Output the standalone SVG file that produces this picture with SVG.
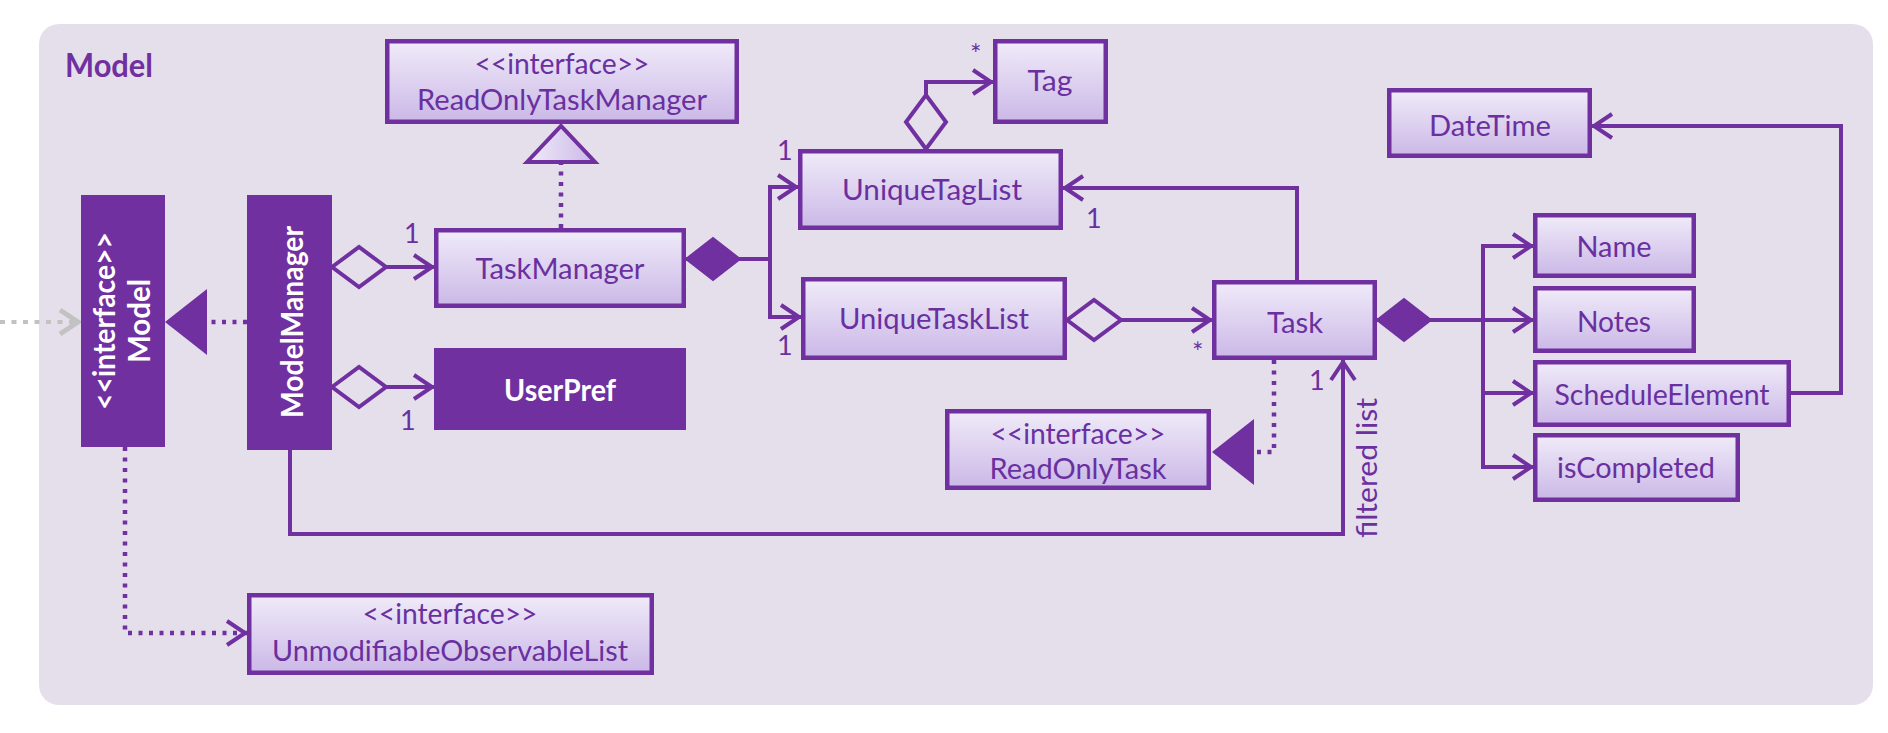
<svg xmlns="http://www.w3.org/2000/svg" width="1888" height="733" viewBox="0 0 1888 733">
  <style>
    .lbl { font-family: Lato, "Liberation Sans", sans-serif; font-size: 29px; fill: #6A30A0; text-anchor: middle; }
    .wlbl { font-family: Lato, "Liberation Sans", sans-serif; font-size: 30px; font-weight: bold; fill: #FFFFFF; text-anchor: middle; }
    .mult { font-family: Lato, "Liberation Sans", sans-serif; font-size: 27px; fill: #6A30A0; }
    .title { font-family: Lato, "Liberation Sans", sans-serif; font-size: 32px; font-weight: bold; fill: #7030A0; }
    .box { fill: url(#boxGrad); stroke: #7030A0; stroke-width: 4.5; }
    .dbox { fill: #7030A0; stroke: #7030A0; stroke-width: 2; }
    .ln { fill: none; stroke: #7030A0; stroke-width: 4; }
    .dot { fill: none; stroke: #7030A0; stroke-width: 4.5; stroke-dasharray: 4 6.5; }
    .gdot { fill: none; stroke: #C2C2C2; stroke-width: 4; stroke-dasharray: 5 6.5; }
  </style>
  <defs>
    <linearGradient id="boxGrad" x1="0" y1="0" x2="0" y2="1">
      <stop offset="0" stop-color="#F0EBF9"/>
      <stop offset="1" stop-color="#CBB8E7"/>
    </linearGradient>
    <marker id="arrow" markerUnits="userSpaceOnUse" viewBox="0 0 30 30" refX="25" refY="15" markerWidth="30" markerHeight="30" orient="auto" overflow="visible">
      <path d="M5,3 L23,15 L5,27" fill="none" stroke="#7030A0" stroke-width="4"/>
    </marker>
    <marker id="garrow" markerUnits="userSpaceOnUse" viewBox="0 0 30 30" refX="25" refY="15" markerWidth="30" markerHeight="30" orient="auto" overflow="visible">
      <path d="M5,3 L23,15 L5,27" fill="none" stroke="#C2C2C2" stroke-width="5"/>
    </marker>
    <marker id="diaOpen" markerUnits="userSpaceOnUse" viewBox="0 0 56 44" refX="1" refY="22" markerWidth="56" markerHeight="44" orient="auto" overflow="visible">
      <path d="M1,22 L28,2 L55,22 L28,42 Z" fill="#E5DFEC" stroke="#7030A0" stroke-width="4"/>
    </marker>
    <marker id="diaFill" markerUnits="userSpaceOnUse" viewBox="0 0 56 44" refX="1" refY="22" markerWidth="56" markerHeight="44" orient="auto" overflow="visible">
      <path d="M1,22 L28,1 L55,22 L28,43 Z" fill="#7030A0" stroke="#7030A0" stroke-width="2"/>
    </marker>
    <marker id="triFill" markerUnits="userSpaceOnUse" viewBox="0 0 42 66" refX="42" refY="33" markerWidth="42" markerHeight="66" orient="auto" overflow="visible">
      <path d="M0,0 L42,33 L0,66 Z" fill="#7030A0"/>
    </marker>
    <marker id="triOpen" markerUnits="userSpaceOnUse" viewBox="0 0 42 70" refX="40" refY="35" markerWidth="42" markerHeight="70" orient="auto" overflow="visible">
      <path d="M2,1 L38,35 L2,69 Z" fill="url(#boxGrad)" stroke="#7030A0" stroke-width="4"/>
    </marker>
  </defs>

  <g id="panel">
    <rect x="39" y="24" width="1834" height="681" rx="20" ry="20" fill="#E5DFEC"/>
    <text class="title" x="65" y="77" textLength="88" lengthAdjust="spacingAndGlyphs">Model</text>
  </g>

  <g id="connectors">
    <path class="gdot" d="M0,322 H80" marker-end="url(#garrow)"/>
    <path class="dot" d="M247,322 H165" marker-end="url(#triFill)"/>
    <path class="dot" d="M561,228 V124" marker-end="url(#triOpen)"/>
    <path class="ln" d="M332,267 H434" marker-start="url(#diaOpen)" marker-end="url(#arrow)"/>
    <path class="ln" d="M332,387 H434" marker-start="url(#diaOpen)" marker-end="url(#arrow)"/>
    <path class="ln" d="M686,259 H770 V187 H798" marker-start="url(#diaFill)" marker-end="url(#arrow)"/>
    <path class="ln" d="M770,259 V317 H801" marker-end="url(#arrow)"/>
    <path class="ln" d="M926,149 V82 H993" marker-start="url(#diaOpen)" marker-end="url(#arrow)"/>
    <path class="ln" d="M1067,320 H1212" marker-start="url(#diaOpen)" marker-end="url(#arrow)"/>
    <path class="ln" d="M1297,280 V188 H1063" marker-end="url(#arrow)"/>
    <path class="dot" d="M1274,360 V452 H1212" marker-end="url(#triFill)"/>
    <path class="ln" d="M290,450 V534 H1343 V360" marker-end="url(#arrow)"/>
    <path class="ln" d="M1377,320 H1533" marker-start="url(#diaFill)" marker-end="url(#arrow)"/>
    <path class="ln" d="M1483,320 V246 H1533" marker-end="url(#arrow)"/>
    <path class="ln" d="M1483,320 V393 H1533" marker-end="url(#arrow)"/>
    <path class="ln" d="M1483,320 V467 H1533" marker-end="url(#arrow)"/>
    <path class="ln" d="M1791,393 H1841 V126 H1592" marker-end="url(#arrow)"/>
    <path class="dot" d="M125,447 V633 H247" marker-end="url(#arrow)"/>
    <text class="mult" x="404" y="243">1</text>
    <text class="mult" x="400" y="430">1</text>
    <text class="mult" x="777" y="160">1</text>
    <text class="mult" x="777" y="355">1</text>
    <text class="mult" x="1086" y="228">1</text>
    <text class="mult" x="970" y="64">*</text>
    <text class="mult" x="1192" y="362">*</text>
    <text class="mult" x="1309" y="390">1</text>
    <text class="lbl" transform="translate(1377,468) rotate(-90)" textLength="140" lengthAdjust="spacingAndGlyphs">filtered list</text>
  </g>

  <g id="node-model">
    <rect class="dbox" x="82" y="196" width="82" height="250"/>
    <text class="wlbl" transform="translate(115,321) rotate(-90)" textLength="178" lengthAdjust="spacingAndGlyphs">&lt;&lt;interface&gt;&gt;</text>
    <text class="wlbl" transform="translate(150,321) rotate(-90)" textLength="84" lengthAdjust="spacingAndGlyphs">Model</text>
  </g>

  <g id="node-modelmanager">
    <rect class="dbox" x="248" y="196" width="83" height="253"/>
    <text class="wlbl" transform="translate(303,322) rotate(-90)" textLength="192" lengthAdjust="spacingAndGlyphs">ModelManager</text>
  </g>

  <g id="node-readonlytaskmanager">
    <rect class="box" x="387.25" y="41.25" width="349.5" height="80.5"/>
    <text class="lbl" x="562" y="74" textLength="175" lengthAdjust="spacingAndGlyphs">&lt;&lt;interface&gt;&gt;</text>
    <text class="lbl" x="562" y="110" textLength="290" lengthAdjust="spacingAndGlyphs">ReadOnlyTaskManager</text>
  </g>

  <g id="node-taskmanager">
    <rect class="box" x="436.25" y="230.25" width="247.5" height="75.5"/>
    <text class="lbl" x="560" y="279" textLength="169" lengthAdjust="spacingAndGlyphs">TaskManager</text>
  </g>

  <g id="node-userpref">
    <rect class="dbox" x="435" y="349" width="250" height="80"/>
    <text class="wlbl" x="560" y="401" textLength="112" lengthAdjust="spacingAndGlyphs">UserPref</text>
  </g>

  <g id="node-uniquetaglist">
    <rect class="box" x="800.25" y="151.25" width="260.5" height="76.5"/>
    <text class="lbl" x="932" y="200" textLength="180" lengthAdjust="spacingAndGlyphs">UniqueTagList</text>
  </g>

  <g id="node-tag">
    <rect class="box" x="995.25" y="41.25" width="110.5" height="80.5"/>
    <text class="lbl" x="1050" y="91" textLength="45" lengthAdjust="spacingAndGlyphs">Tag</text>
  </g>

  <g id="node-uniquetasklist">
    <rect class="box" x="803.25" y="279.25" width="261.5" height="78.5"/>
    <text class="lbl" x="934" y="329" textLength="190" lengthAdjust="spacingAndGlyphs">UniqueTaskList</text>
  </g>

  <g id="node-task">
    <rect class="box" x="1214.25" y="282.25" width="160.5" height="75.5"/>
    <text class="lbl" x="1295" y="333" textLength="56" lengthAdjust="spacingAndGlyphs">Task</text>
  </g>

  <g id="node-readonlytask">
    <rect class="box" x="947.25" y="411.25" width="261.5" height="76.5"/>
    <text class="lbl" x="1078" y="444" textLength="175" lengthAdjust="spacingAndGlyphs">&lt;&lt;interface&gt;&gt;</text>
    <text class="lbl" x="1078" y="479" textLength="177" lengthAdjust="spacingAndGlyphs">ReadOnlyTask</text>
  </g>

  <g id="node-datetime">
    <rect class="box" x="1389.25" y="90.25" width="200.5" height="65.5"/>
    <text class="lbl" x="1490" y="136" textLength="122" lengthAdjust="spacingAndGlyphs">DateTime</text>
  </g>

  <g id="node-name">
    <rect class="box" x="1535.25" y="215.25" width="158.5" height="60.5"/>
    <text class="lbl" x="1614" y="257" textLength="75" lengthAdjust="spacingAndGlyphs">Name</text>
  </g>

  <g id="node-notes">
    <rect class="box" x="1535.25" y="288.25" width="158.5" height="62.5"/>
    <text class="lbl" x="1614" y="332" textLength="74" lengthAdjust="spacingAndGlyphs">Notes</text>
  </g>

  <g id="node-scheduleelement">
    <rect class="box" x="1535.25" y="362.25" width="253.5" height="62.5"/>
    <text class="lbl" x="1662" y="405" textLength="215" lengthAdjust="spacingAndGlyphs">ScheduleElement</text>
  </g>

  <g id="node-iscompleted">
    <rect class="box" x="1535.25" y="435.25" width="202.5" height="64.5"/>
    <text class="lbl" x="1636" y="478" textLength="158" lengthAdjust="spacingAndGlyphs">isCompleted</text>
  </g>

  <g id="node-unmodifiableobservablelist">
    <rect class="box" x="249.25" y="595.25" width="402.5" height="77.5"/>
    <text class="lbl" x="450" y="624" textLength="175" lengthAdjust="spacingAndGlyphs">&lt;&lt;interface&gt;&gt;</text>
    <text class="lbl" x="450" y="661" textLength="356" lengthAdjust="spacingAndGlyphs">UnmodifiableObservableList</text>
  </g>
</svg>
